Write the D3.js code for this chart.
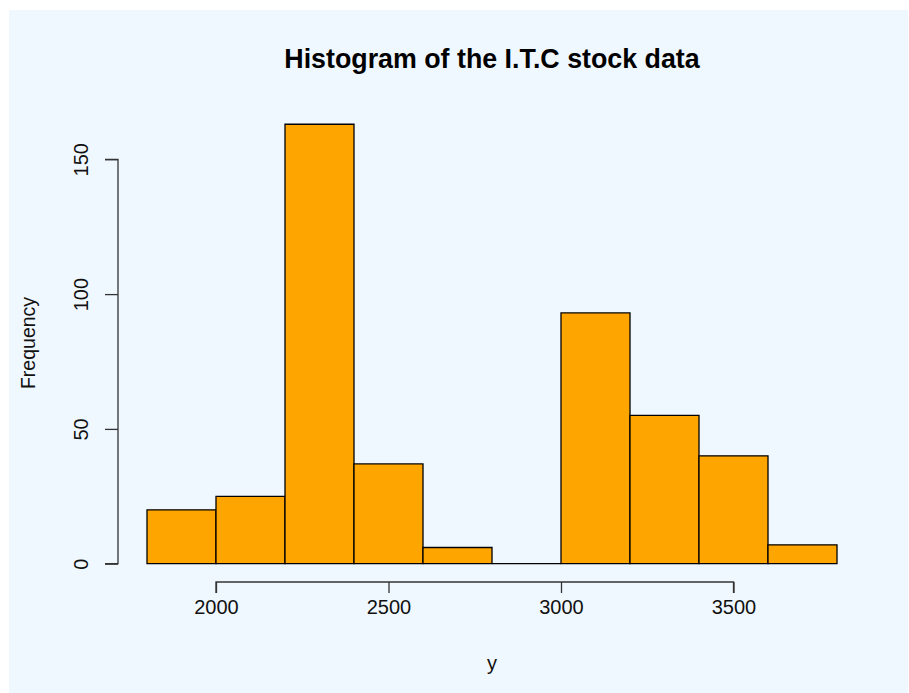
<!DOCTYPE html>
<html>
<head>
<meta charset="utf-8">
<script src="https://cdn.jsdelivr.net/npm/d3@7"></script>
<style>
html,body{margin:0;padding:0;background:#fff;}
svg{display:block;}
text{font-family:"Liberation Sans",Arial,Helvetica,sans-serif;}
</style>
</head>
<body>
<svg id="chart" width="909" height="693"></svg>
<script>
// Data
const binEdges = [1800, 2000, 2200, 2400, 2600, 2800, 3000, 3200, 3400, 3600, 3800];
const counts = [20, 25, 163, 37, 6, 0, 93, 55, 40, 7];
const xTicks = [2000, 2500, 3000, 3500];
const yTicks = [0, 50, 100, 150];
const title = "Histogram of the I.T.C stock data";
const xLabel = "y";
const yLabel = "Frequency";

const svg = d3.select("#chart");
svg.append("rect").attr("x", 9).attr("y", 10).attr("width", 899).attr("height", 683).attr("fill", "#F0F8FF");

const x = d3.scaleLinear().domain([2000, 3000]).range([216, 561]);
const y = d3.scaleLinear().domain([0, 150]).range([563.7, 159.3]);

const bins = counts.map((c, i) => ({x0: binEdges[i], x1: binEdges[i + 1], c}));

svg.append("g").selectAll("path").data(bins).join("path")
  .attr("d", d => {
    const px0 = x(d.x0), px1 = x(d.x1), py0 = y(0), py1 = y(d.c);
    return `M${px0},${py0}V${py1}H${px1}V${py0}Z`;
  })
  .attr("fill", "#FFA500")
  .attr("stroke", "#000")
  .attr("stroke-width", 1.3);

// X axis
const xAxis = d3.axisBottom(x).tickValues(xTicks).tickSize(11).tickPadding(7).tickFormat(d3.format("d"));
const gx = svg.append("g").attr("transform", "translate(0,582)").call(xAxis);
gx.select(".domain").attr("d", `M${x(xTicks[0])},11V0H${x(xTicks[xTicks.length-1])}V11`);
gx.selectAll("line, path").attr("stroke", "#333").attr("stroke-width", 1.3);
gx.selectAll("text").attr("font-size", 20).attr("fill", "#111").attr("font-family", "Liberation Sans, Arial, sans-serif");

// Y axis
const yAxis = d3.axisLeft(y).tickValues(yTicks).tickSize(13).tickPadding(0).tickFormat(d3.format("d"));
const gy = svg.append("g").attr("transform", "translate(118,0)").call(yAxis);
gy.select(".domain").attr("d", `M-13,${y(yTicks[0])}H0V${y(yTicks[yTicks.length-1])}H-13`);
gy.selectAll("line, path").attr("stroke", "#333").attr("stroke-width", 1.3);
gy.selectAll(".tick text")
  .attr("font-size", 20).attr("fill", "#111").attr("font-family", "Liberation Sans, Arial, sans-serif")
  .attr("x", null).attr("dy", null)
  .attr("text-anchor", "middle")
  .attr("transform", "translate(-30,0) rotate(-90)");

// Title
svg.append("text").attr("x", 492).attr("y", 68).attr("text-anchor", "middle")
  .attr("font-size", 26.8).attr("font-weight", "bold").attr("fill", "#000").text(title);

// Axis labels
svg.append("text").attr("x", 492).attr("y", 670).attr("text-anchor", "middle")
  .attr("font-size", 20).attr("fill", "#111").text(xLabel);
svg.append("text").attr("transform", "translate(35,343) rotate(-90)").attr("text-anchor", "middle")
  .attr("font-size", 19.5).attr("fill", "#111").text(yLabel);
</script>
</body>
</html>
